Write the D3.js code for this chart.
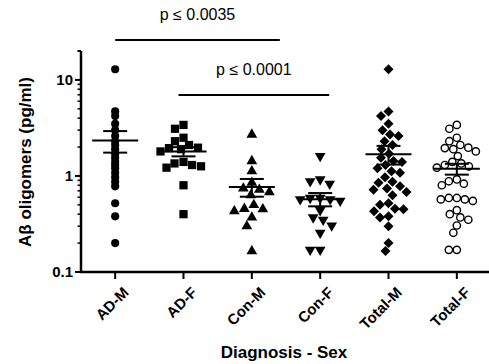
<!DOCTYPE html>
<html>
<head>
<meta charset="utf-8">
<script src="https://cdn.jsdelivr.net/npm/d3@7"></script>
<style>
  body { margin: 0; background: #fff; }
  text { font-family: "Liberation Sans", Arial, sans-serif; }
</style>
</head>
<body>
<div id="wrapper"></div>
<script>
const categories = ["AD-M", "AD-F", "Con-M", "Con-F", "Total-M", "Total-F"];

// Aβ oligomers (pg/ml)
const adM = [12.9, 4.7, 4.2, 3.5, 3.0, 2.6, 2.3, 2.1, 1.9, 1.7, 1.55, 1.4, 1.3, 1.2, 1.08, 0.97, 0.87, 0.78, 0.52, 0.38, 0.20];
const adF = [3.4, 3.1, 2.5, 2.3, 2.1, 1.97, 1.95, 1.9, 1.8, 1.4, 1.35, 1.3, 1.26, 1.22, 0.80, 0.40];
const conM = [2.7, 1.43, 1.12, 0.85, 0.74, 0.72, 0.68, 0.63, 0.50, 0.455, 0.45, 0.43, 0.37, 0.30, 0.165];
const conF = [1.61, 0.92, 0.88, 0.83, 0.59, 0.59, 0.57, 0.57, 0.55, 0.44, 0.37, 0.35, 0.305, 0.256, 0.17, 0.17];
// totals pool the diagnosis groups
const totalM = adM.concat(conM);
const totalF = adF.concat(conF);

const yTicks = [0.1, 1, 10];
const yTickLabels = ["0.1", "1", "10"];

const comparisons = [
  { label: "p \u2264 0.0035", from: "AD-M", to: "Con-M" },
  { label: "p \u2264 0.0001", from: "AD-F", to: "Con-F" }
];

const width = 489, height = 364;
const margin = { left: 81, right: -2, top: 51, bottom: 92 };

const svg = d3.select("#wrapper").append("svg")
  .attr("width", width)
  .attr("height", height);

const x = d3.scaleBand()
  .domain(categories)
  .range([margin.left, width - margin.right]);

const y = d3.scaleLog()
  .domain([0.1, 20])
  .range([height - margin.bottom, margin.top]);

const cx = c => x(c) + x.bandwidth() / 2;

// marker per group
const groups = [
  { name: "AD-M", values: adM, shape: d3.symbolCircle, size: 52, rot: 0, fill: "#000", sep: 0 },
  { name: "AD-F", values: adF, shape: d3.symbolSquare, size: 68, rot: 0, fill: "#000", sep: 9 },
  { name: "Con-M", values: conM, shape: d3.symbolTriangle, size: 50, rot: 0, fill: "#000", sep: 10 },
  { name: "Con-F", values: conF, shape: d3.symbolTriangle, size: 50, rot: 180, fill: "#000", sep: 10 },
  { name: "Total-M", values: totalM, shape: d3.symbolSquare, size: 50, rot: 45, fill: "#000", sep: 8.5 },
  { name: "Total-F", values: totalF, shape: d3.symbolCircle, size: 42, rot: 0, fill: "#fff", sep: 8 }
];

// simple column-scatter placement, nearest free slot to the centre
function dodge(values, sep) {
  const pts = values.map(v => ({ v, py: y(v), dx: 0 })).sort((a, b) => a.py - b.py);
  if (!sep) return pts;
  const placed = [];
  pts.forEach(p => {
    for (let k = 0; k < 100; k++) {
      const off = (k % 2 === 0 ? 1 : -1) * Math.ceil(k / 2) * 0.5;
      const ok = placed.every(q => {
        const dy = q.py - p.py, dxx = q.dx - off;
        return dxx * dxx + dy * dy >= sep * sep;
      });
      if (ok) { p.dx = off; break; }
    }
    placed.push(p);
  });
  return pts;
}

// points
groups.forEach(g => {
  const pts = dodge(g.values, g.sep);
  svg.append("g")
    .selectAll("path")
    .data(pts)
    .join("path")
    .attr("d", d3.symbol().type(g.shape).size(g.size))
    .attr("transform", d => `translate(${cx(g.name) + d.dx},${d.py}) rotate(${g.rot})`)
    .attr("fill", g.fill)
    .attr("stroke", "#000")
    .attr("stroke-width", g.fill === "#fff" ? 1.4 : 0);

  // mean ± SEM
  const m = d3.mean(g.values);
  const sem = d3.deviation(g.values) / Math.sqrt(g.values.length);
  const c = cx(g.name);
  const eb = svg.append("g").attr("stroke", "#000").attr("stroke-width", 2);
  eb.append("line").attr("x1", c).attr("x2", c).attr("y1", y(m - sem)).attr("y2", y(m + sem));
  eb.append("line").attr("x1", c - 23).attr("x2", c + 23).attr("y1", y(m)).attr("y2", y(m));
  [m - sem, m + sem].forEach(v => {
    eb.append("line").attr("x1", c - 12).attr("x2", c + 12).attr("y1", y(v)).attr("y2", y(v));
  });
});

// y axis
const yAxis = svg.append("g");
yAxis.append("line")
  .attr("x1", margin.left).attr("x2", margin.left)
  .attr("y1", y(20)).attr("y2", y(0.1))
  .attr("stroke", "#000").attr("stroke-width", 2.5);
const minor = [];
[0.1, 1, 10].forEach(d => { for (let i = 2; i <= 9; i++) if (d * i <= 20) minor.push(d * i); });
minor.push(20);
yAxis.selectAll(".minor").data(minor).join("line")
  .attr("x1", margin.left - 3.5).attr("x2", margin.left)
  .attr("y1", d => y(d)).attr("y2", d => y(d))
  .attr("stroke", "#000").attr("stroke-width", 1.5);
yAxis.selectAll(".major").data(yTicks).join("line")
  .attr("x1", margin.left - 6).attr("x2", margin.left)
  .attr("y1", d => y(d)).attr("y2", d => y(d))
  .attr("stroke", "#000").attr("stroke-width", 2);
yAxis.selectAll("text").data(yTicks).join("text")
  .attr("x", margin.left - 8)
  .attr("y", d => y(d))
  .attr("dy", "0.36em")
  .attr("text-anchor", "end")
  .attr("font-size", 15)
  .attr("font-weight", "bold")
  .text((d, i) => yTickLabels[i]);

// x axis
const xAxis = svg.append("g");
xAxis.append("line")
  .attr("x1", margin.left - 1).attr("x2", width)
  .attr("y1", y(0.1)).attr("y2", y(0.1))
  .attr("stroke", "#000").attr("stroke-width", 2.5);
xAxis.selectAll(".tick").data(categories).join("line")
  .attr("x1", d => cx(d)).attr("x2", d => cx(d))
  .attr("y1", y(0.1)).attr("y2", y(0.1) + 7)
  .attr("stroke", "#000").attr("stroke-width", 2);
xAxis.selectAll("text").data(categories).join("text")
  .attr("transform", d => `translate(${cx(d) + 7},${y(0.1) + 14}) rotate(-45)`)
  .attr("text-anchor", "end")
  .attr("dy", "0.7em")
  .attr("font-size", 15)
  .attr("font-weight", "bold")
  .text(d => d);

// titles
svg.append("text")
  .attr("x", 284).attr("y", 358)
  .attr("text-anchor", "middle")
  .attr("font-size", 17)
  .attr("font-weight", "bold")
  .text("Diagnosis - Sex");
svg.append("text")
  .attr("transform", `translate(31,${162}) rotate(-90)`)
  .attr("text-anchor", "middle")
  .attr("font-size", 17)
  .attr("font-weight", "bold")
  .text("A\u03b2 oligomers (pg/ml)");

// significance bars
const bars = [
  { y: 40, x0: cx("AD-M"), x1: cx("Con-M") + 28 },
  { y: 95, x0: cx("AD-F") - 5, x1: cx("Con-F") + 9 }
];
comparisons.forEach((c, i) => {
  const b = bars[i];
  svg.append("line")
    .attr("x1", b.x0).attr("x2", b.x1)
    .attr("y1", b.y).attr("y2", b.y)
    .attr("stroke", "#000").attr("stroke-width", 1.8);
  svg.append("text")
    .attr("x", (b.x0 + b.x1) / 2)
    .attr("y", b.y - 20)
    .attr("text-anchor", "middle")
    .attr("font-size", 16)
    .text(c.label);
});
</script>
</body>
</html>
